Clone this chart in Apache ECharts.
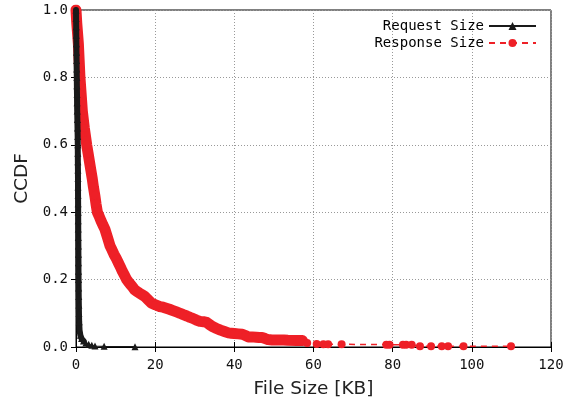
<!DOCTYPE html>
<html>
<head>
<meta charset="utf-8">
<script src="https://cdn.jsdelivr.net/npm/echarts@6/dist/echarts.min.js"></script>
<style>
  html, body { margin: 0; padding: 0; background: #fff; }
  #main { width: 579px; height: 407px; }
</style>
</head>
<body>
<div id="main"></div>
<script>
// Request Size CCDF (KB, ccdf)
var reqX = [0, 0.02, 0.05, 0.07, 0.1, 0.12, 0.15, 0.17, 0.2, 0.22, 0.25, 0.27, 0.3, 0.34, 0.38, 0.42, 0.45, 0.46, 0.47, 0.49,
  0.5, 0.51, 0.52, 0.54, 0.55, 0.56, 0.57, 0.58, 0.6, 0.61, 0.62, 0.63, 0.65, 0.67, 0.69, 0.72, 0.75, 0.8, 0.9, 1.1,
  1.4, 1.9, 2.5, 3.2, 4.0, 4.8, 7.1, 14.9];
var reqY = [1.0, 0.975, 0.95, 0.925, 0.9, 0.875, 0.85, 0.825, 0.8, 0.775, 0.75, 0.725, 0.7, 0.675, 0.65, 0.625, 0.6, 0.575, 0.55, 0.525,
  0.5, 0.475, 0.45, 0.425, 0.4, 0.375, 0.35, 0.325, 0.3, 0.275, 0.25, 0.225, 0.2, 0.175, 0.15, 0.125, 0.1, 0.075, 0.05, 0.035,
  0.025, 0.018, 0.012, 0.008, 0.005, 0.003, 0.002, 0.001];

// Response Size CCDF
var respX = [0, 0.2, 0.4, 0.6, 0.8, 1.0, 1.3, 1.6, 2.1, 2.7, 3.05, 3.4, 3.75, 4.1, 4.4, 4.75, 5.05, 5.4, 5.85, 6.3,
  6.8, 7.3, 7.95, 8.6, 9.1, 9.6, 10.2, 10.7, 11.2, 11.7, 12.3, 12.8, 13.3, 13.8, 14.3, 14.8, 15.4, 16.0, 16.7, 17.4,
  18.2, 19.1, 20.1, 21.2, 22.0, 22.8, 23.6, 24.5, 25.4, 26.3, 27.1, 28.0, 28.8, 29.5, 30.4, 31.3, 32.2, 33.0, 33.8, 34.6,
  35.5, 36.5, 37.5, 38.5, 39.2, 40.0, 41.0, 42.0, 42.8, 43.5, 44.5, 45.5, 46.3, 47.0, 47.8, 48.5, 49.5, 50.5, 51.5, 52.5,
  53.5, 55.8, 56.5, 57.2, 58.4, 60.8, 62.5, 63.7, 67.1, 78.4, 79.2, 82.6, 83.4, 84.8, 86.9, 89.7, 92.4, 94.0, 97.9, 109.9];
var respY = [1.0, 0.96, 0.93, 0.9, 0.85, 0.8, 0.75, 0.7, 0.65, 0.6, 0.575, 0.55, 0.525, 0.5, 0.475, 0.45, 0.425, 0.4, 0.388, 0.375,
  0.362, 0.35, 0.325, 0.3, 0.288, 0.275, 0.262, 0.25, 0.238, 0.225, 0.212, 0.2, 0.192, 0.185, 0.178, 0.17, 0.165, 0.16, 0.155, 0.15,
  0.14, 0.13, 0.125, 0.12, 0.118, 0.115, 0.112, 0.108, 0.104, 0.1, 0.096, 0.092, 0.088, 0.085, 0.08, 0.076, 0.075, 0.073, 0.066, 0.06,
  0.055, 0.05, 0.046, 0.042, 0.041, 0.04, 0.039, 0.038, 0.034, 0.03, 0.03, 0.029, 0.028, 0.028, 0.025, 0.022, 0.021, 0.021, 0.021, 0.021,
  0.02, 0.019, 0.019, 0.019, 0.012, 0.009, 0.008, 0.008, 0.008, 0.007, 0.007, 0.007, 0.007, 0.007, 0.002, 0.002, 0.002, 0.002, 0.002, 0.002];

// where the samples are so dense that the markers merge into a band
var reqDenseCount = 42;   // through x = 1.9
var respDenseCount = 84;  // through x = 57.2

var xTicks = [0, 20, 40, 60, 80, 100, 120];
var yTicks = [0.0, 0.2, 0.4, 0.6, 0.8, 1.0];

function pairs(xs, ys, n) {
  var out = [];
  n = n || xs.length;
  for (var i = 0; i < n; i++) out.push([xs[i], ys[i]]);
  return out;
}

var mono = 'DejaVu Sans Mono';
var red = '#ee2027';
var black = '#1a1a1a';
var chart = echarts.init(document.getElementById('main'));

var gridLine = { show: true, lineStyle: { color: '#999', type: [1, 2], width: 1 } };
var innerTick = { show: true, inside: true, length: 5, lineStyle: { color: '#000' } };

var option = {
  animation: false,
  grid: { left: 76, right: 28, top: 10, bottom: 60, show: true, borderColor: '#000', borderWidth: 1 },
  legend: {
    orient: 'vertical',
    right: 37,
    top: 14,
    align: 'right',
    itemWidth: 47,
    itemHeight: 10,
    itemGap: 3,
    textStyle: { fontFamily: mono, fontSize: 14, color: '#000' },
    data: ['Request Size', 'Response Size']
  },
  xAxis: [{
    type: 'value',
    min: xTicks[0],
    max: xTicks[xTicks.length - 1],
    interval: 20,
    name: 'File Size [KB]',
    nameLocation: 'middle',
    nameGap: 33,
    nameTextStyle: { fontFamily: 'DejaVu Sans', fontSize: 18.5, color: '#222' },
    axisLine: { show: true, lineStyle: { color: '#000' } },
    axisTick: innerTick,
    axisLabel: { fontFamily: mono, fontSize: 14, color: '#111', margin: 11 },
    splitLine: gridLine
  }, {
    type: 'value',
    position: 'top',
    min: 0, max: 120, interval: 20,
    axisLine: { show: false },
    axisTick: innerTick,
    axisLabel: { show: false },
    splitLine: { show: false }
  }],
  yAxis: [{
    type: 'value',
    min: yTicks[0],
    max: yTicks[yTicks.length - 1],
    interval: 0.2,
    name: 'CCDF',
    nameLocation: 'middle',
    nameGap: 40,
    nameTextStyle: { fontFamily: 'DejaVu Sans', fontSize: 18.5, color: '#222' },
    axisLine: { show: true, lineStyle: { color: '#000' } },
    axisTick: innerTick,
    axisLabel: { fontFamily: mono, fontSize: 14, color: '#111', margin: 8,
      formatter: function (v) { return v.toFixed(1); } },
    splitLine: gridLine
  }, {
    type: 'value',
    position: 'right',
    min: 0, max: 1, interval: 0.2,
    axisLine: { show: false },
    axisTick: innerTick,
    axisLabel: { show: false },
    splitLine: { show: false }
  }],
  series: [{
    name: 'resp-band',
    type: 'line',
    data: pairs(respX, respY, respDenseCount),
    symbol: 'none',
    lineStyle: { color: red, width: 11, cap: 'round', join: 'round' },
    silent: true,
    z: 1
  }, {
    name: 'Response Size',
    type: 'line',
    data: pairs(respX, respY),
    symbol: 'circle',
    symbolSize: 8,
    itemStyle: { color: red },
    lineStyle: { color: red, width: 1.5, type: [6, 5] },
    z: 2
  }, {
    name: 'req-band',
    type: 'line',
    data: pairs(reqX, reqY, reqDenseCount),
    symbol: 'none',
    lineStyle: { color: black, width: 6, cap: 'round', join: 'round' },
    silent: true,
    z: 3
  }, {
    name: 'Request Size',
    type: 'line',
    data: pairs(reqX, reqY),
    symbol: 'triangle',
    symbolSize: 7,
    itemStyle: { color: black },
    lineStyle: { color: black, width: 1.2 },
    z: 4
  }]
};
chart.setOption(option);
</script>
</body>
</html>
